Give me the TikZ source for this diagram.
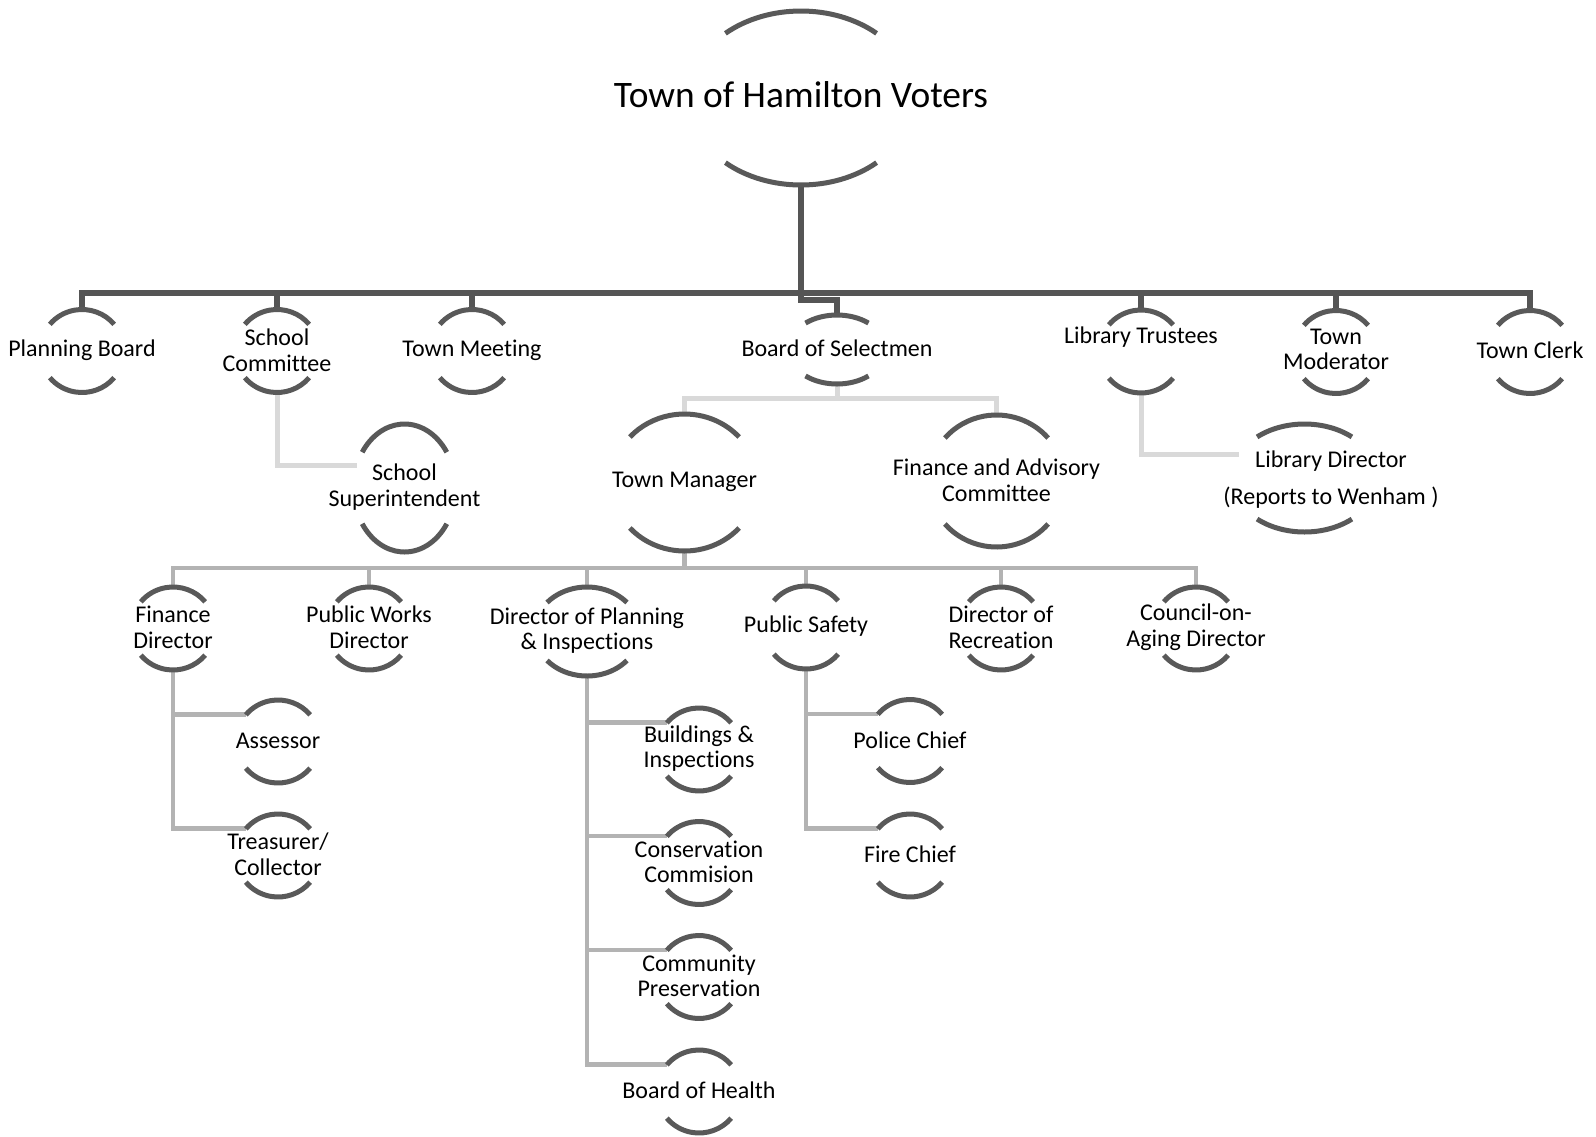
\documentclass[tikz,border=0pt]{standalone}
\usepackage{fontspec}
\setmainfont{Carlito}[Ligatures={NoCommon,NoContextual}]
\usetikzlibrary{shapes.geometric,backgrounds}
\definecolor{ringgray}{HTML}{595959}
\definecolor{topgray}{HTML}{555555}
\definecolor{palegray}{HTML}{D9D9D9}
\definecolor{midgray}{HTML}{B3B3B3}
\tikzset{
  ring/.style 2 args={ellipse,minimum width=#1pt,minimum height=#2pt,inner sep=0pt,outer sep=0pt},
  seat/.style={ring={42}{41.5}},
  every label/.style={font=\fontsize{12}{12.8}\selectfont,align=center,inner sep=0pt,yshift=0.5pt},
  arcline/.style={draw=ringgray,line width=2.5pt},
  topline/.style={draw=topgray,line width=3pt},
  paleline/.style={draw=palegray,line width=2.5pt},
  midline/.style={draw=midgray,line width=2.3pt}
}
\begin{document}
\begin{tikzpicture}[x=0.5pt,y=-0.5pt]
\useasboundingbox (0,0) rectangle (1596,1136);
\node[ring={113}{87},label={[font=\fontsize{18.7}{22}\selectfont,yshift=1pt]center:Town of Hamilton Voters}] (voters) at (801,98) {};

\node[seat,label={center:Planning Board}] (plan) at (82,351) {};
\node[seat,label={center:{School\\Committee}}] (school) at (277,351) {};
\node[seat,label={center:Town Meeting}] (meet) at (472,351) {};
\node[ring={49}{34.5},label={center:Board of Selectmen}] (bos) at (837,349.5) {};
\node[seat,label={[yshift=6.75pt]center:Library Trustees}] (libtr) at (1141,351.5) {};
\node[seat,label={[yshift=0.75pt]center:{Town\\Moderator}}] (moder) at (1336,352) {};
\node[seat,label={[yshift=0.5pt]center:Town Clerk}] (clerk) at (1530,352) {};

\node[ring={51}{64},label={center:{School\\Superintendent}}] (super) at (404.5,488) {};
\node[ring={73}{68.5},label={center:Town Manager}] (tm) at (684.5,482.5) {};
\node[ring={68}{66},label={center:{Finance and Advisory\\Committee}}] (fa) at (996.5,481) {};
\node[ring={73}{54},label={[xshift=13.25pt,yshift=-1.25pt]center:{Library Director\\[5.5pt](Reports to Wenham )}}] (libdir) at (1304.5,478) {};

\node[seat,label={center:{Finance\\Director}}] (fd) at (173,628.5) {};
\node[seat,label={center:{Public Works\\Director}}] (pw) at (369,628.5) {};
\node[ring={52.6}{44.5},label={center:{Director of Planning\\\& Inspections}}] (dop) at (587,631.5) {};
\node[seat,label={center:Public Safety}] (ps) at (806,627.5) {};
\node[seat,label={center:{Director of\\Recreation}}] (rec) at (1001,628.5) {};
\node[seat,label={center:{Council-on-\\Aging Director}}] (coa) at (1196,628.5) {};

\node[seat,label={center:Assessor}] (assess) at (278,741.5) {};
\node[seat,label={center:{Treasurer/\\Collector}}] (treas) at (278,855.5) {};
\node[seat,label={center:{Buildings \&\\Inspections}}] (build) at (699,749.5) {};
\node[seat,label={center:{Conservation\\Commision}}] (cons) at (699,863) {};
\node[seat,label={center:{Community\\Preservation}}] (comm) at (699,977) {};
\node[seat,label={center:Board of Health}] (health) at (699,1091.5) {};
\node[seat,label={center:Police Chief}] (police) at (910,741) {};
\node[seat,label={center:Fire Chief}] (fire) at (910,855.5) {};

% open circles: top and bottom arc only
\foreach \n/\a/\b/\t in {voters/113/87/48, bos/49/34.5/50, super/51/64/34, tm/73/68.5/41.6,
    fa/68/66/40.6, libdir/73/54/49.5, dop/52.6/44.5/40.6,
    plan/42/41.5/40, school/42/41.5/40, meet/42/41.5/40, libtr/42/41.5/40, moder/42/41.5/40,
    clerk/42/41.5/40, fd/42/41.5/40, pw/42/41.5/40, ps/42/41.5/40, rec/42/41.5/40, coa/42/41.5/40,
    assess/42/41.5/40, treas/42/41.5/40, build/42/41.5/40, cons/42/41.5/40, comm/42/41.5/40,
    health/42/41.5/40, police/42/41.5/40, fire/42/41.5/40}
  \draw[arcline] (\n.center) ++({\a*cos(\t)},{\b*sin(\t)}) arc[start angle=\t,end angle=180-\t,x radius=\a,y radius=\b]
                 (\n.center) ++({\a*cos(\t)},{-\b*sin(\t)}) arc[start angle=-\t,end angle=-180+\t,x radius=\a,y radius=\b];

\begin{scope}[on background layer]
\coordinate (bar) at (801,293);
\draw[topline] (voters.south) -- ++(0,115) -| (bos.north);
\draw[topline] (plan.north) |- (bar) -| (clerk.north);
\foreach \n in {school,meet,libtr,moder}
  \draw[topline] (\n.north) -- (\n.north |- bar);

\draw[paleline] (school.south) |- (super.155);
\draw[paleline] (libtr.south) |- (libdir.160);
\draw[paleline] (bos.south) -- ++(0,14) coordinate (bosbar);
\draw[paleline] (tm.north) |- (bosbar) -| (fa.north);

\draw[midline] (tm.south) -- ++(0,17) coordinate (tmbar);
\draw[midline] (fd.north) |- (tmbar) -| (coa.north);
\foreach \n in {pw,dop,ps,rec}
  \draw[midline] (\n.north) -- (\n.north |- tmbar);
\foreach \n in {assess,treas}
  \draw[midline] (fd.south) |- (\n.140);
\foreach \n in {build,cons,comm,health}
  \draw[midline] (dop.south) |- (\n.140);
\foreach \n in {police,fire}
  \draw[midline] (ps.south) |- (\n.140);
\end{scope}
\end{tikzpicture}
\end{document}
